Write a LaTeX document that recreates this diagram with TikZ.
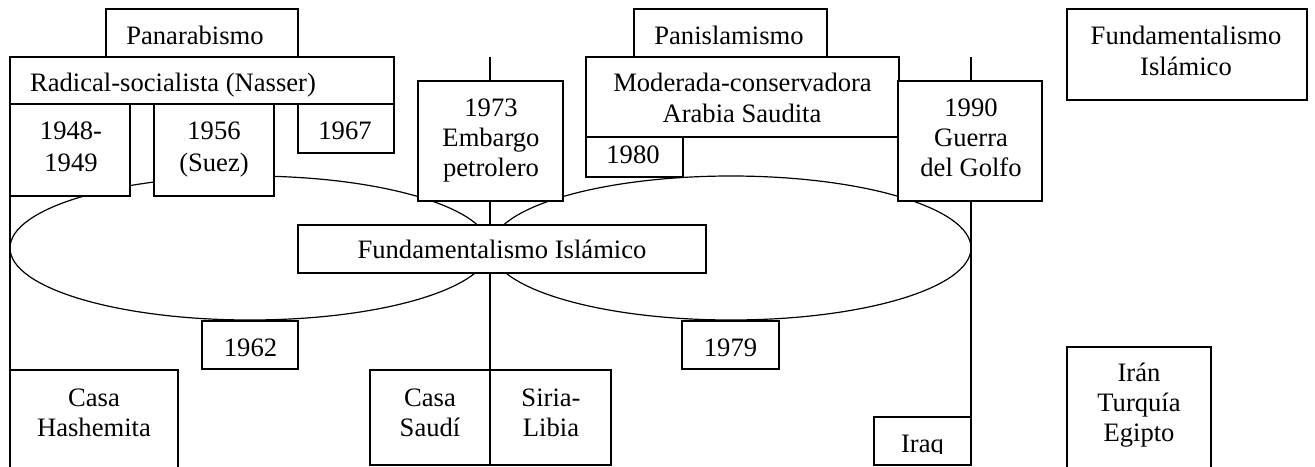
\documentclass[tikz,border=0pt]{standalone}
\usepackage{fontspec}
\setmainfont{Liberation Serif}
\pgfdeclarelayer{background}
\pgfsetlayers{background,main}
\begin{document}
\begin{tikzpicture}[x=0.5pt,y=-0.5pt,
  box/.style={draw, fill=white, line width=0.6pt, inner sep=0pt, outer sep=0pt, rectangle},
  txt/.style={anchor=base, inner sep=0pt, font=\fontsize{13.3}{16}\selectfont},
  link/.style={line width=0.6pt},
  oval/.style={line width=0.6pt}]
\newcommand\bx[5]{\node[box, minimum width={(#4-#2)*0.5pt}, minimum height={(#5-#3)*0.5pt}] (#1) at ({(#2+#4)/2},{(#3+#5)/2}) {};}
\newcommand\tx[4]{\node[txt] (#1) at (#2,#3) {#4};}
\useasboundingbox (0,0) rectangle (1315,466);
\clip (0,0) rectangle (1315,466);
% boxes
\bx{pan}{106}{9}{298}{57}
\bx{rad}{10}{57}{394}{104}
\bx{b48}{10}{104}{130}{196}
\bx{b56}{154}{104}{274}{196}
\bx{b67}{298}{104}{394}{153}
\bx{b73}{418}{81}{563}{201}
\bx{pis}{634}{9}{827}{57}
\bx{mod}{586}{57}{899}{137}
\bx{b80}{586}{137}{683}{177}
\bx{b90}{898}{81}{1042}{201}
\bx{fr}{1067}{9}{1307}{100}
\bx{fc}{298}{225}{706}{273}
\bx{b62}{202}{321}{298}{369}
\bx{b79}{682}{321}{779}{369}
\bx{hash}{10}{370}{178}{472}
\bx{saudi}{370}{370}{490}{465}
\bx{siria}{490}{370}{611}{465}
\bx{iraq}{874}{417}{971}{465}
\bx{iran}{1067}{347}{1211}{472}
\coordinate (topmid) at (490,57);
\coordinate (topright) at (971,57);
% ellipses and connectors behind the boxes
\begin{pgfonlayer}{background}
\draw[oval] (250,248) ellipse [x radius=120pt, y radius=36pt];
\draw[oval] (731,248) ellipse [x radius=120pt, y radius=36pt];
\draw[link] (b48.south west) -- (hash.north west);
\draw[link] (topmid) -- (saudi.north east);
\draw[link] (topright) -- (iraq.north east);
\end{pgfonlayer}
% texts
\tx{t1}{195}{44.3}{Panarabismo}
\tx{t2}{173}{91.7}{Radical-socialista (Nasser)}
\tx{t3}{71}{139.5}{1948-}
\tx{t4}{71}{171.8}{1949}
\tx{t5}{214}{139.5}{1956}
\tx{t6}{214}{171.8}{(Suez)}
\tx{t7}{345}{139.5}{1967}
\tx{t8}{491}{116.7}{1973}
\tx{t9}{491}{146.7}{Embargo}
\tx{t10}{491}{176.7}{petrolero}
\tx{t11}{729}{44.3}{Panislamismo}
\tx{t12}{742.5}{91.7}{Moderada-conservadora}
\tx{t13}{742}{122.7}{Arabia Saudita}
\tx{t14}{633}{163}{1980}
\tx{t15}{971}{116.7}{1990}
\tx{t16}{971}{146.7}{Guerra}
\tx{t17}{971}{176.7}{del Golfo}
\tx{t18}{1186}{44.3}{Fundamentalismo}
\tx{t19}{1186}{75}{Islámico}
\tx{t20}{502}{258.3}{Fundamentalismo Islámico}
\tx{t21}{250.5}{356}{1962}
\tx{t22}{730.5}{356}{1979}
\tx{t23}{94}{406}{Casa}
\tx{t24}{94}{436.7}{Hashemita}
\tx{t25}{430}{406}{Casa}
\tx{t26}{430}{436.7}{Saudí}
\tx{t27}{551}{406}{Siria-}
\tx{t28}{551}{436.7}{Libia}
\tx{t30}{1139}{381.7}{Irán}
\tx{t31}{1139}{411.7}{Turquía}
\tx{t32}{1139}{441.7}{Egipto}
\begin{scope}
\clip (874,417) rectangle (971,453);
\tx{t29}{922.5}{452.5}{Iraq}
\end{scope}
\end{tikzpicture}
\end{document}
